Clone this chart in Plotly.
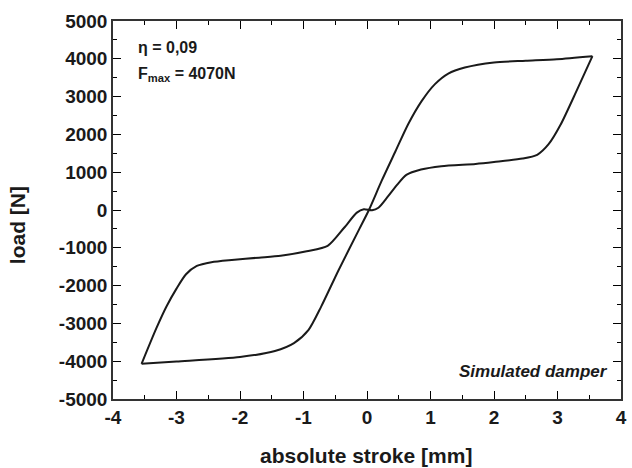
import plotly.graph_objects as go
from plotly.subplots import make_subplots

# Loading branch: bottom-left tip -> lower path -> top-right tip
stroke_up = [-3.55, -3.32, -3.16, -3.0, -2.85, -2.68, -2.45, -2.13, -1.7, -1.36, -0.95,
             -0.62, -0.36, -0.16, -0.05, 0.08, 0.18, 0.33, 0.48, 0.62, 0.85, 1.17, 1.71,
             2.0, 2.45, 2.68, 2.86, 3.05, 3.3, 3.55]
load_up = [-4070, -3140, -2560, -2080, -1700, -1480, -1380, -1320, -1260, -1210, -1090,
           -950, -470, -70, 20, -5, 60, 360, 680, 930, 1070, 1160, 1220,
           1270, 1360, 1460, 1740, 2260, 3150, 4070]

# Unloading branch: top-right tip -> upper path -> bottom-left tip
stroke_down = [3.55, 2.99, 2.5, 2.0, 1.54, 1.28, 1.07, 0.86, 0.65, 0.45, 0.23, 0.03,
               -0.12, -0.45, -0.72, -0.92, -1.15, -1.45, -2.0, -3.0, -3.55]
load_down = [4070, 3990, 3950, 3905, 3770, 3610, 3330, 2880, 2275, 1560, 770, 0,
             -500, -1600, -2550, -3170, -3520, -3730, -3890, -4010, -4070]

x_ticks = [-4, -3, -2, -1, 0, 1, 2, 3, 4]
y_ticks = [-5000, -4000, -3000, -2000, -1000, 0, 1000, 2000, 3000, 4000, 5000]

FONT = "Liberation Sans, Arial, sans-serif"
INK = "#1a1a1a"

fig = make_subplots(rows=1, cols=1)
for xs, ys in [(stroke_up, load_up), (stroke_down, load_down)]:
    fig.add_trace(go.Scatter(x=xs, y=ys, mode="lines",
                             line=dict(color=INK, width=2, shape="spline", smoothing=0.7),
                             showlegend=False, hoverinfo="skip"), row=1, col=1)

axis_common = dict(
    showgrid=False, zeroline=False, showline=True, linecolor="#333333", linewidth=1.5,
    mirror="allticks", ticks="inside", ticklen=8, tickcolor="black",
    tickfont=dict(family=FONT, size=19, color=INK, weight="bold"),
)

fig.update_xaxes(autorange=True,
                 autorangeoptions=dict(minallowed=x_ticks[0], maxallowed=x_ticks[-1],
                                       include=[x_ticks[0], x_ticks[-1]]),
                 tickmode="array", tickvals=x_ticks,
                 ticktext=[str(v) for v in x_ticks],
                 minor=dict(ticks="inside", ticklen=4, dtick=0.5, tick0=0),
                 row=1, col=1, **axis_common)
fig.update_yaxes(autorange=True,
                 autorangeoptions=dict(minallowed=y_ticks[0], maxallowed=y_ticks[-1],
                                       include=[y_ticks[0], y_ticks[-1]]),
                 tickmode="array", tickvals=y_ticks,
                 ticktext=[str(v) for v in y_ticks],
                 minor=dict(ticks="inside", ticklen=4, dtick=500, tick0=0),
                 row=1, col=1, **axis_common)

L, R, T, B = 113, 5, 21, 69
W, H = 632, 468
pw, ph = W - L - R, H - T - B

def px(x):
    return (x - L) / pw

def py(y):
    return (H - B - y) / ph

annotations = [
    dict(text="<b>absolute stroke [mm]</b>", x=px(369), y=py(456), xref="paper", yref="paper",
         showarrow=False, font=dict(family=FONT, size=21, color=INK), xanchor="center", yanchor="middle"),
    dict(text="<b>load [N]</b>", x=px(16), y=py(225), xref="paper", yref="paper", textangle=-90,
         showarrow=False, font=dict(family=FONT, size=21, color=INK), xanchor="center", yanchor="middle"),
    dict(text="<b>η = 0,09</b>", x=px(136), y=py(47), xref="paper", yref="paper",
         showarrow=False, font=dict(family=FONT, size=16, color=INK), xanchor="left", yanchor="middle"),
    dict(text="<b>F<sub>max</sub> = 4070N</b>", x=px(136), y=py(74), xref="paper", yref="paper",
         showarrow=False, font=dict(family=FONT, size=16, color=INK), xanchor="left", yanchor="middle"),
    dict(text="<b><i>Simulated damper</i></b>", x=px(616), y=py(371), xref="paper", yref="paper",
         showarrow=False, font=dict(family=FONT, size=17, color=INK), xanchor="right", yanchor="middle"),
]

fig.update_layout(
    width=W, height=H,
    margin=dict(l=L, r=R, t=T, b=B),
    plot_bgcolor="white", paper_bgcolor="white",
    annotations=annotations,
    showlegend=False,
)

fig.write_html("out.html")
